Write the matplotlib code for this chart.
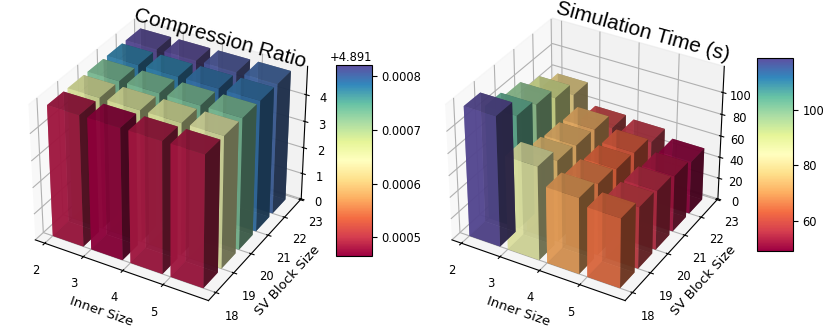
import matplotlib
matplotlib.use("Agg")
import matplotlib.pyplot as plt
import numpy as np
from matplotlib.cm import ScalarMappable
from matplotlib.colors import Normalize

plt.rcParams['font.size'] = 8.3

inner_sizes = [2, 3, 4, 5]
sv_sizes = [18, 19, 20, 21, 22]
sv_ticks = [18, 19, 20, 21, 22, 23]

# rows = sv block size, columns = inner size
compression = [
    [4.89148, 4.891465, 4.89148, 4.89148],
    [4.89166, 4.89166, 4.89166, 4.89165],
    [4.89173, 4.89173, 4.89173, 4.89173],
    [4.89178, 4.89178, 4.89179, 4.89179],
    [4.89182, 4.89182, 4.89181, 4.89180],
]
sim_time = [
    [119, 86, 70, 64],
    [104, 75, 66, 57],
    [99, 73, 63, 55],
    [90, 72, 62, 52],
    [78, 58, 56, 49],
]


def draw(rect, cax_rect, values, title, title_xy, zticks, zmax, cticks):
    ax = fig.add_axes(rect, projection='3d')
    ax.set_facecolor('none')
    ax.view_init(elev=33, azim=-60)
    ax.set_box_aspect((4, 4, 3.2), zoom=0.95)
    values = np.array(values)
    norm = Normalize(values.min(), values.max())
    cmap = plt.cm.Spectral
    for r, sv in enumerate(sv_sizes):
        for c, inner in enumerate(inner_sizes):
            ax.bar3d(inner, sv, 0, 0.8, 0.8, values[r][c],
                     color=cmap(norm(values[r][c])), alpha=0.8)
    ax.set_xlim(1.75, 6.1)
    ax.set_ylim(17.6, 23.05)
    ax.set_zlim(0, zmax)
    ax.set_xticks(inner_sizes)
    ax.set_yticks(sv_ticks)
    ax.set_zticks(zticks)
    ax.tick_params(pad=3)
    ax.tick_params(axis='z', pad=0)
    ax.set_xlabel("Inner Size", fontsize=9.5, labelpad=1)
    ax.set_ylabel("SV Block Size", fontsize=9.5, labelpad=1)
    fig.text(title_xy[0], title_xy[1], title, fontsize=15, family='Liberation Sans',
             rotation=-15.5, ha='center', va='center', rotation_mode='anchor')
    cax = fig.add_axes(cax_rect)
    cb = fig.colorbar(ScalarMappable(norm=norm, cmap=cmap), cax=cax)
    cb.set_ticks(cticks)
    return ax


fig = plt.figure(figsize=(8.3, 3.31), dpi=100)
draw([-0.01, 0.022, 0.42, 1.0], [0.405, 0.226, 0.043, 0.577], compression,
     "Compression Ratio", (0.265, 0.885), [0, 1, 2, 3, 4], 5.04,
     [4.8915, 4.8916, 4.8917, 4.8918])
draw([0.492, 0.022, 0.42, 1.0], [0.912, 0.242, 0.043, 0.583], sim_time,
     "Simulation Time (s)", (0.775, 0.903), [0, 20, 40, 60, 80, 100], 123.5,
     [60, 80, 100])
fig.savefig("out.png", dpi=100)
